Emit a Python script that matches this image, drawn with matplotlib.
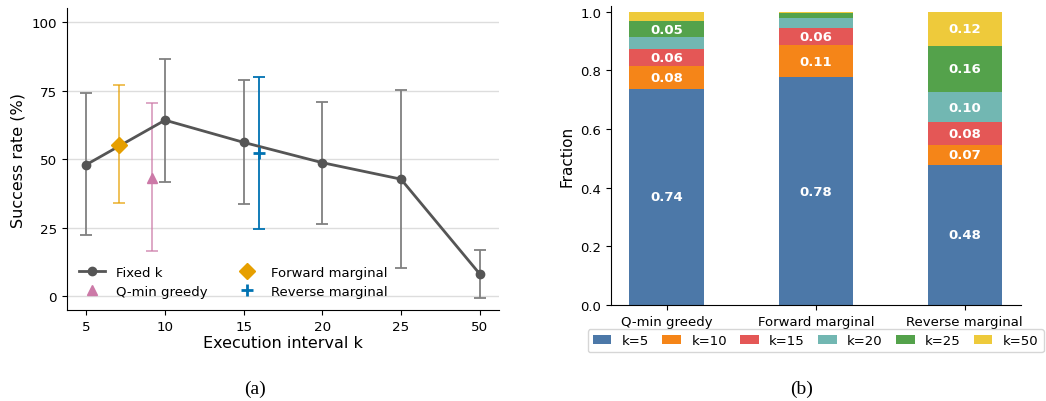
import numpy as np
import matplotlib
matplotlib.use('Agg')
import matplotlib.pyplot as plt

# ---- panel (a): success rate vs execution interval ----
k_labels = ['5', '10', '15', '20', '25', '50']
fixed_mean = [48.0, 64.2, 56.1, 48.7, 42.7, 8.2]
fixed_lo = [22.2, 41.5, 33.5, 26.5, 10.4, -0.6]
fixed_hi = [74.0, 86.6, 78.8, 71.0, 75.1, 16.7]

# adaptive methods: (x position on the category axis, mean, low, high)
fwd_x, fwd_mean, fwd_lo, fwd_hi = 0.42, 55.3, 33.9, 77.0
qmin_x, qmin_mean, qmin_lo, qmin_hi = 0.84, 43.2, 16.5, 70.4
rev_x, rev_mean, rev_lo, rev_hi = 2.2, 52.1, 24.4, 79.9

# ---- panel (b): fraction of chosen k per method ----
methods = ['Q-min greedy', 'Forward marginal', 'Reverse marginal']
k_names = ['k=5', 'k=10', 'k=15', 'k=20', 'k=25', 'k=50']
fractions = {
    'k=5':  [0.737, 0.776, 0.478],
    'k=10': [0.077, 0.109, 0.067],
    'k=15': [0.058, 0.061, 0.078],
    'k=20': [0.041, 0.031, 0.104],
    'k=25': [0.054, 0.017, 0.156],
    'k=50': [0.033, 0.006, 0.117],
}
bar_colors = ['#4C78A8', '#F58518', '#E45756', '#72B7B2', '#54A24B', '#EECA3B']

fig = plt.figure(figsize=(10.46, 4.02), dpi=100)
ax1 = fig.add_axes([0.0638, 0.2264, 0.4135, 0.7506])
ax2 = fig.add_axes([0.584, 0.2388, 0.3918, 0.7442])

# left panel
x = np.arange(len(k_labels))
fm = np.array(fixed_mean)
yerr = [fm - np.array(fixed_lo), np.array(fixed_hi) - fm]
ax1.errorbar(x, fm, yerr=yerr, fmt='none', ecolor='#808080', elinewidth=1.3,
             capsize=4.5, capthick=1.3, zorder=2)
ax1.plot(x, fm, color='#555555', lw=2, marker='o', ms=6, label='Fixed k', zorder=3)

def one_point(xp, m, lo, hi, color, marker, ms, label, ealpha):
    ax1.errorbar([xp], [m], yerr=[[m - lo], [hi - m]], fmt='none', ecolor=color,
                 alpha=ealpha, elinewidth=1.3, capsize=4.5, capthick=1.3, zorder=2)
    ax1.plot([xp], [m], ls='none', marker=marker, color=color, ms=ms,
             mew=2 if marker == '+' else 1, label=label, zorder=4)

one_point(qmin_x, qmin_mean, qmin_lo, qmin_hi, '#CC79A7', '^', 7, 'Q-min greedy', 0.7)
one_point(fwd_x, fwd_mean, fwd_lo, fwd_hi, '#E69F00', 'D', 8, 'Forward marginal', 0.7)
one_point(rev_x, rev_mean, rev_lo, rev_hi, '#0072B2', '+', 8, 'Reverse marginal', 1.0)

ax1.set_xticks(x)
ax1.set_xticklabels(k_labels)
ax1.set_xlim(-0.25, 5.25)
ax1.set_ylim(-5, 105)
ax1.set_yticks([0, 25, 50, 75, 100])
ax1.yaxis.grid(True, color='#dddddd', lw=1)
ax1.set_axisbelow(True)
ax1.spines['top'].set_visible(False)
ax1.spines['right'].set_visible(False)
ax1.tick_params(labelsize=9.7)
ax1.set_xlabel('Execution interval k', fontsize=11.5, labelpad=2)
ax1.set_ylabel('Success rate (%)', fontsize=11.5)

ax1.legend(ncol=2, loc='lower left', frameon=False, fontsize=9.5,
           bbox_to_anchor=(0.0, 0.0), columnspacing=2.0, handlelength=2)

# right panel
xb = np.arange(len(methods))
bottom = np.zeros(len(methods))
for name, col in zip(k_names, bar_colors):
    vals = np.array(fractions[name])
    ax2.bar(xb, vals, 0.5, bottom=bottom, color=col, label=name)
    for xi, v, b in zip(xb, vals, bottom):
        if v >= 0.05:
            ax2.text(xi, b + v / 2, f'{v:.2f}', ha='center', va='center',
                     color='white', fontsize=9.5, fontweight='bold')
    bottom += vals

ax2.set_xticks(xb)
ax2.set_xticklabels(methods)
ax2.set_ylim(0, 1.02)
ax2.set_yticks([0.0, 0.2, 0.4, 0.6, 0.8, 1.0])
ax2.spines['top'].set_visible(False)
ax2.spines['right'].set_visible(False)
ax2.tick_params(labelsize=9.5)
ax2.set_ylabel('Fraction', fontsize=11)
ax2.legend(ncol=6, loc='upper center', bbox_to_anchor=(0.5, -0.08), fontsize=9.5,
           frameon=True, handlelength=1.4, handletextpad=0.8, columnspacing=1.0,
           borderaxespad=0)

fig.text(0.2438, 0.02, '(a)', ha='center', fontsize=14, family='Liberation Serif')
fig.text(0.7665, 0.02, '(b)', ha='center', fontsize=14, family='Liberation Serif')

fig.savefig('out.png', dpi=100)
